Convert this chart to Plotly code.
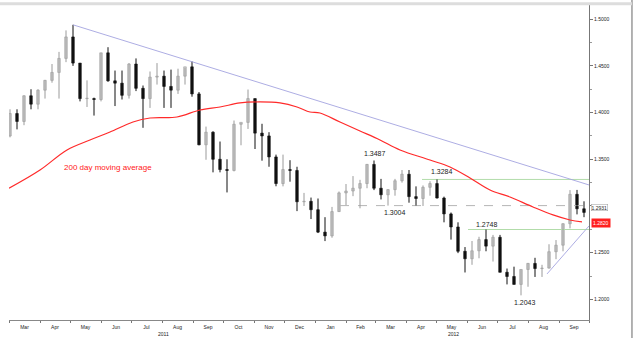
import plotly.graph_objects as go
import pandas as pd

# Weekly EUR/USD bars (mid-week dates)
week_dates = pd.date_range("2011-03-02", periods=83, freq="7D")
opens = [1.3750, 1.3990, 1.3905, 1.4180, 1.4090, 1.4240, 1.4345, 1.4430, 1.4580, 1.4810,
         1.4530, 1.4150, 1.4150, 1.4140, 1.4640, 1.4340, 1.4315, 1.4185, 1.4520, 1.4260,
         1.4150, 1.4380, 1.4390, 1.4280, 1.4240, 1.4390, 1.4490, 1.4200, 1.3655, 1.3790,
         1.3500, 1.3390, 1.3380, 1.3875, 1.3895, 1.4150, 1.3780, 1.3750, 1.3525, 1.3240,
         1.3390, 1.3380, 1.3045, 1.3050, 1.2960, 1.2720, 1.2680, 1.2940, 1.3140, 1.3160,
         1.3190, 1.3240, 1.3445, 1.3190, 1.3120, 1.3175, 1.3270, 1.3340, 1.3100, 1.3080,
         1.3200, 1.3240, 1.3085, 1.2915, 1.2775, 1.2515, 1.2435, 1.2520, 1.2640, 1.2570,
         1.2665, 1.2290, 1.2245, 1.2160, 1.2320, 1.2385, 1.2330, 1.2335, 1.2510, 1.2580,
         1.2810, 1.3125, 1.2970]
highs = [1.4035, 1.4035, 1.4185, 1.4250, 1.4250, 1.4350, 1.4520, 1.4650, 1.4880, 1.4940,
         1.4530, 1.4345, 1.4160, 1.4640, 1.4700, 1.4450, 1.4450, 1.4530, 1.4580, 1.4290,
         1.4440, 1.4530, 1.4450, 1.4460, 1.4470, 1.4480, 1.4548, 1.4220, 1.3850, 1.3800,
         1.3690, 1.3500, 1.3915, 1.3890, 1.4247, 1.4150, 1.3880, 1.3790, 1.3550, 1.3550,
         1.3490, 1.3420, 1.3140, 1.3090, 1.3080, 1.2880, 1.2990, 1.3155, 1.3235, 1.3320,
         1.3280, 1.3450, 1.3487, 1.3290, 1.3180, 1.3290, 1.3385, 1.3385, 1.3210, 1.3220,
         1.3265, 1.3284, 1.3100, 1.2930, 1.2825, 1.2560, 1.2625, 1.2670, 1.2748, 1.2690,
         1.2690, 1.2330, 1.2350, 1.2320, 1.2390, 1.2445, 1.2370, 1.2590, 1.2635, 1.2815,
         1.3170, 1.3172, 1.3050]
lows = [1.3735, 1.3820, 1.3865, 1.4035, 1.4035, 1.4150, 1.4320, 1.4150, 1.4540, 1.4500,
        1.4120, 1.4060, 1.3968, 1.4120, 1.4330, 1.4070, 1.4140, 1.4150, 1.4230, 1.3837,
        1.4050, 1.4300, 1.4050, 1.4050, 1.4200, 1.4300, 1.4170, 1.3650, 1.3495, 1.3360,
        1.3360, 1.3145, 1.3370, 1.3650, 1.3825, 1.3610, 1.3485, 1.3420, 1.3211, 1.3210,
        1.3260, 1.2945, 1.3000, 1.2860, 1.2710, 1.2624, 1.2660, 1.2935, 1.3010, 1.3105,
        1.2975, 1.3190, 1.3170, 1.3070, 1.3004, 1.3110, 1.3250, 1.3035, 1.3005, 1.3000,
        1.3110, 1.3080, 1.2825, 1.2640, 1.2495, 1.2288, 1.2370, 1.2440, 1.2515, 1.2405,
        1.2290, 1.2160, 1.2160, 1.2043, 1.2135, 1.2240, 1.2240, 1.2330, 1.2430, 1.2515,
        1.2760, 1.2910, 1.2880]
closes = [1.3990, 1.3905, 1.4180, 1.4090, 1.4240, 1.4345, 1.4430, 1.4580, 1.4810, 1.4530,
          1.4150, 1.4150, 1.4140, 1.4640, 1.4340, 1.4315, 1.4185, 1.4520, 1.4260, 1.4150,
          1.4380, 1.4390, 1.4280, 1.4240, 1.4390, 1.4490, 1.4200, 1.3655, 1.3790, 1.3500,
          1.3390, 1.3380, 1.3875, 1.3895, 1.4150, 1.3780, 1.3750, 1.3525, 1.3240, 1.3390,
          1.3380, 1.3045, 1.3050, 1.2960, 1.2720, 1.2680, 1.2940, 1.3140, 1.3160, 1.3190,
          1.3240, 1.3445, 1.3190, 1.3120, 1.3175, 1.3270, 1.3340, 1.3100, 1.3080, 1.3200,
          1.3240, 1.3085, 1.2915, 1.2775, 1.2515, 1.2435, 1.2520, 1.2640, 1.2570, 1.2665,
          1.2290, 1.2245, 1.2160, 1.2320, 1.2385, 1.2330, 1.2335, 1.2510, 1.2580, 1.2810,
          1.3125, 1.2970, 1.2931]

# 200-day moving average
ma_dates = ["2011-03-01", "2011-04-01", "2011-04-28", "2011-05-21", "2011-06-10", "2011-07-03",
            "2011-07-20", "2011-08-16", "2011-09-08", "2011-09-28", "2011-10-18", "2011-11-07",
            "2011-11-27", "2011-12-14", "2011-12-27", "2012-01-06", "2012-01-26", "2012-02-15",
            "2012-03-06", "2012-03-26", "2012-04-25", "2012-05-15", "2012-06-04", "2012-06-24",
            "2012-07-14", "2012-08-06", "2012-08-26", "2012-09-12", "2012-09-24"]
ma_values = [1.3190, 1.3385, 1.3600, 1.3707, 1.3792, 1.3899, 1.3942, 1.3953, 1.4028, 1.4060,
             1.4103, 1.4114, 1.4103, 1.4060, 1.4006, 1.3996, 1.3899, 1.3803, 1.3707, 1.3600,
             1.3492, 1.3418, 1.3300, 1.3171, 1.3096, 1.2989, 1.2904, 1.2850, 1.2829]

upper_trend_dates = ["2011-05-04", "2012-10-01"]
upper_trend_values = [1.4940, 1.3225]
lower_trend_dates = ["2012-08-20", "2012-10-01"]
lower_trend_values = [1.2272, 1.2786]

level_1_dates = ["2012-04-17", "2012-10-01"]; level_1 = 1.3284
level_2_dates = ["2012-06-02", "2012-10-01"]; level_2 = 1.2748
level_3_dates = ["2012-01-26", "2012-10-01"]; level_3 = 1.3004

ytick_vals = [1.20, 1.25, 1.30, 1.35, 1.40, 1.45, 1.50]
ytick_text = ["1.2000", "1.2500", "", "1.3500", "1.4000", "1.4500", "1.5000"]

price_labels = [("2012-03-01", 1.3560, "1.3487"), ("2012-03-21", 1.2925, "1.3004"),
                ("2012-05-07", 1.3364, "1.3284"), ("2012-06-21", 1.2797, "1.2748"),
                ("2012-07-29", 1.1971, "1.2043")]

FONT = "Liberation Sans, Arial, sans-serif"
DAY_MS = 86400000

fig = go.Figure()
fig.add_trace(go.Scatter(x=level_3_dates, y=[level_3, level_3], mode="lines",
                         line=dict(color="#b5b5b5", width=1, dash="dash"), hoverinfo="skip"))
fig.add_trace(go.Scatter(x=level_1_dates, y=[level_1, level_1], mode="lines",
                         line=dict(color="#b2dcaa", width=1), hoverinfo="skip"))
fig.add_trace(go.Scatter(x=level_2_dates, y=[level_2, level_2], mode="lines",
                         line=dict(color="#b2dcaa", width=1), hoverinfo="skip"))

# candles drawn as wick lines + body bars
for up, wick_col, body_col, edge_col in [(True, "#9a9a9a", "#d9d9d9", "#9a9a9a"),
                                          (False, "#111111", "#111111", "#111111")]:
    idx = [i for i in range(len(opens)) if (closes[i] >= opens[i]) == up]
    wx, wy = [], []
    for i in idx:
        wx += [week_dates[i], week_dates[i], None]
        wy += [lows[i], highs[i], None]
    fig.add_trace(go.Scatter(x=wx, y=wy, mode="lines", line=dict(color=wick_col, width=1),
                             hoverinfo="skip"))
    fig.add_trace(go.Bar(x=[week_dates[i] for i in idx],
                         y=[max(abs(closes[i] - opens[i]), 0.0004) for i in idx],
                         base=[min(opens[i], closes[i]) for i in idx],
                         width=2.6 * DAY_MS,
                         marker=dict(color=body_col, line=dict(color=edge_col, width=0.6))))

fig.add_trace(go.Scatter(x=ma_dates, y=ma_values, mode="lines",
                         line=dict(color="#ff2a2a", width=1.2, shape="spline"), hoverinfo="skip"))
fig.add_trace(go.Scatter(x=upper_trend_dates, y=upper_trend_values, mode="lines",
                         line=dict(color="#a4a4e0", width=0.9), hoverinfo="skip"))
fig.add_trace(go.Scatter(x=lower_trend_dates, y=lower_trend_values, mode="lines",
                         line=dict(color="#a4a4e0", width=0.9), hoverinfo="skip"))

for d, y, t in price_labels:
    fig.add_annotation(x=d, y=y, text=t, showarrow=False, font=dict(size=7, color="#222", family=FONT))
fig.add_annotation(x="2011-04-23", y=1.3407, text="200 day moving average", showarrow=False,
                   xanchor="left", font=dict(size=8, color="#ff2020", family=FONT))
fig.add_annotation(xref="paper", x=1.004, y=1.2931, yshift=5, text="1.2931", showarrow=False,
                   xanchor="left", font=dict(size=5, color="#222", family=FONT),
                   bordercolor="#999", borderwidth=0.5, borderpad=0, bgcolor="white")
fig.add_annotation(xref="paper", x=1.004, y=1.2820, text="1.2820", showarrow=False,
                   xanchor="left", font=dict(size=5, color="white", family=FONT),
                   bgcolor="#ff2020", borderpad=1)
for d, t in [("2011-08-02", "2011"), ("2012-05-18", "2012")]:
    fig.add_annotation(x=d, yref="paper", y=-0.043, yanchor="middle", text=t, showarrow=False,
                       font=dict(size=5, color="#222", family=FONT))

fig.add_shape(type="line", xref="paper", yref="paper", x0=1.0741, x1=1.0741, y0=-0.06, y1=1.02,
              line=dict(color="#666", width=1))
fig.add_shape(type="line", xref="paper", yref="paper", x0=-0.02, x1=1.0741, y0=1.004, y1=1.004,
              line=dict(color="#dddddd", width=3))

fig.update_layout(
    width=640, height=338, margin=dict(l=9, r=51, t=5, b=18),
    paper_bgcolor="white", plot_bgcolor="white", showlegend=False, barmode="overlay",
    font=dict(family=FONT, size=5, color="#222"),
    xaxis=dict(type="date", range=["2011-03-01", "2012-10-01"], showgrid=False, zeroline=False,
               dtick="M1", tickformat="%b", ticklabelmode="period",
               ticks="outside", ticklen=2, tickcolor="#777", tickfont=dict(size=5),
               showline=True, linecolor="#888", linewidth=1),
    yaxis=dict(side="right", range=[1.1779, 1.5152], showgrid=False, zeroline=False,
               tickvals=ytick_vals, ticktext=ytick_text, ticks="outside", ticklen=3, tickcolor="#777",
               tickfont=dict(size=5), showline=True, linecolor="#777", linewidth=1,
               minor=dict(dtick=0.025, tick0=1.2, ticks="outside", ticklen=2, tickcolor="#999")),
)

fig.write_html("out.html")
